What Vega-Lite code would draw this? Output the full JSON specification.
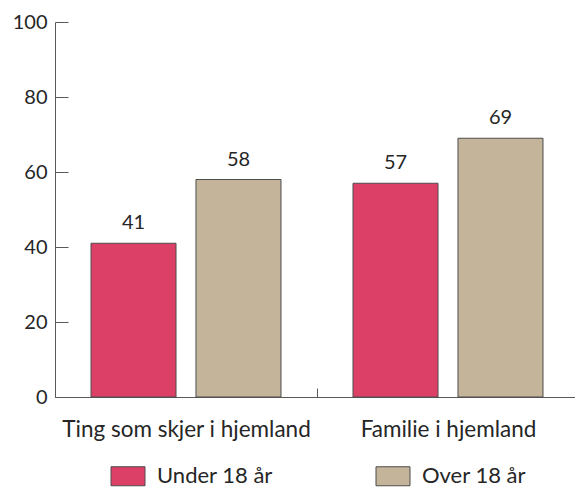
{
  "$schema": "https://vega.github.io/schema/vega-lite/v6.json",
  "width": 524,
  "height": 375,
  "autosize": {"type": "none"},
  "padding": {"left": 55, "top": 22, "right": 0, "bottom": 91},
  "background": "white",
  "config": {
    "font": "Lato",
    "view": {"stroke": null},
    "axis": {"grid": false, "domainColor": "#595959", "tickColor": "#595959", "labelColor": "#262626", "labelFontSize": 20, "labelFont": "Lato", "domainWidth": 1, "tickWidth": 1}
  },
  "data": {
    "values": [
      {"kategori": "Ting som skjer i hjemland", "gruppe": "Under 18 år", "verdi": 41},
      {"kategori": "Ting som skjer i hjemland", "gruppe": "Over 18 år", "verdi": 58},
      {"kategori": "Familie i hjemland", "gruppe": "Under 18 år", "verdi": 57},
      {"kategori": "Familie i hjemland", "gruppe": "Over 18 år", "verdi": 69}
    ]
  },
  "encoding": {
    "x": {
      "field": "kategori", "type": "nominal",
      "sort": ["Ting som skjer i hjemland", "Familie i hjemland"],
      "scale": {"paddingInner": 0, "paddingOuter": 0},
      "axis": {"title": null, "labelAngle": 0, "tickBand": "extent", "tickSize": -9, "labelPadding": 30, "labelFontSize": 22.5, "labelLimit": 400}
    },
    "xOffset": {
      "field": "gruppe", "type": "nominal",
      "sort": ["Under 18 år", "Over 18 år"],
      "scale": {"paddingInner": 0.19, "paddingOuter": 0.343}
    },
    "y": {
      "field": "verdi", "type": "quantitative",
      "scale": {"domain": [0, 100]},
      "axis": {"title": null, "values": [0, 20, 40, 60, 80, 100], "tickSize": -13, "labelPadding": 21}
    }
  },
  "layer": [
    {
      "mark": {"type": "bar", "stroke": "#4d4d4d", "strokeWidth": 1},
      "encoding": {
        "color": {
          "field": "gruppe", "type": "nominal",
          "scale": {"domain": ["Under 18 år", "Over 18 år"], "range": ["#DD4066", "#C3B49A"]},
          "legend": {
            "title": null, "orient": "none", "direction": "horizontal",
            "legendX": 62, "legendY": 443,
            "symbolType": "M-1.7,-0.95H1.7V0.95H-1.7Z", "symbolSize": 400,
            "symbolStrokeColor": "#4d4d4d", "symbolStrokeWidth": 1, "symbolOpacity": 1,
            "labelFontSize": 22, "labelColor": "#262626", "labelOffset": 18,
            "columnPadding": 101
          }
        }
      }
    },
    {
      "mark": {"type": "text", "baseline": "bottom", "dy": -10, "fontSize": 20, "color": "#262626"},
      "encoding": {"text": {"field": "verdi", "type": "quantitative"}}
    }
  ]
}
